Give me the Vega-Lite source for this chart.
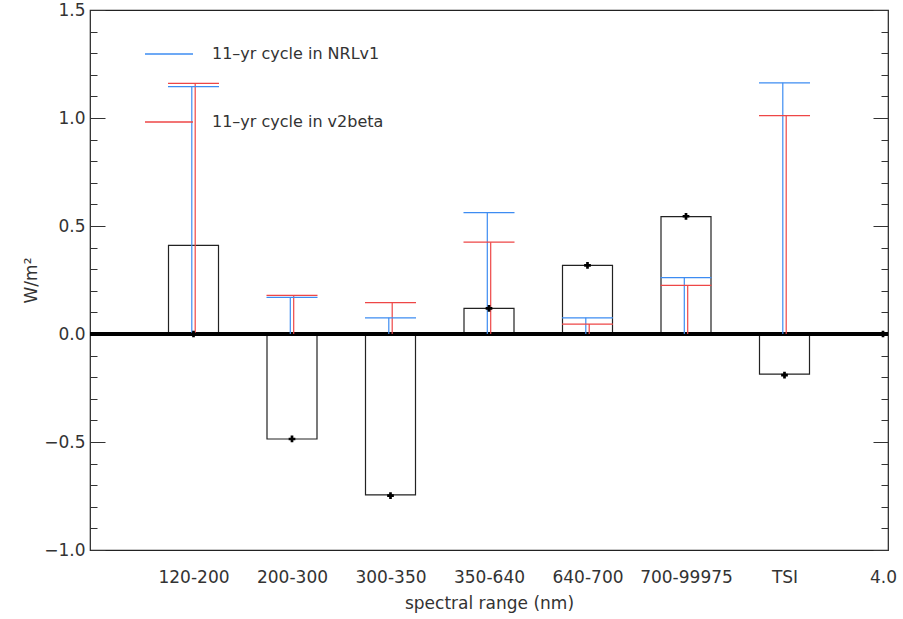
{
  "$schema": "https://vega.github.io/schema/vega-lite/v6.json",
  "width": 798,
  "height": 540,
  "autosize": {"type": "none"},
  "padding": {"left": 90, "top": 10, "right": 15, "bottom": 69},
  "background": "white",
  "config": {
    "view": {"stroke": "#222", "strokeWidth": 1.2},
    "font": "DejaVu Sans",
    "axis": {
      "domain": false,
      "grid": false,
      "labelFont": "DejaVu Sans",
      "labelFontSize": 17,
      "labelColor": "#333",
      "titleFont": "DejaVu Sans",
      "titleFontSize": 17,
      "titleFontWeight": "normal",
      "titleColor": "#333",
      "tickColor": "#333",
      "tickWidth": 1
    }
  },
  "datasets": {
    "bands": [
      {"x": 1, "range": "120-200", "flux": 0.41, "marker": 0.0},
      {"x": 2, "range": "200-300", "flux": -0.486, "marker": -0.486},
      {"x": 3, "range": "300-350", "flux": -0.745, "marker": -0.748},
      {"x": 4, "range": "350-640", "flux": 0.119, "marker": 0.119},
      {"x": 5, "range": "640-700", "flux": 0.318, "marker": 0.318},
      {"x": 6, "range": "700-99975", "flux": 0.543, "marker": 0.545},
      {"x": 7, "range": "TSI", "flux": -0.186, "marker": -0.19},
      {"x": 8, "range": "4.0", "flux": null, "marker": 0.0}
    ],
    "cycle": [
      {"x": 1, "series": "11–yr cycle in NRLv1", "value": 1.145},
      {"x": 2, "series": "11–yr cycle in NRLv1", "value": 0.170},
      {"x": 3, "series": "11–yr cycle in NRLv1", "value": 0.075},
      {"x": 4, "series": "11–yr cycle in NRLv1", "value": 0.562},
      {"x": 5, "series": "11–yr cycle in NRLv1", "value": 0.075},
      {"x": 6, "series": "11–yr cycle in NRLv1", "value": 0.261},
      {"x": 7, "series": "11–yr cycle in NRLv1", "value": 1.163},
      {"x": 1, "series": "11–yr cycle in v2beta", "value": 1.16},
      {"x": 2, "series": "11–yr cycle in v2beta", "value": 0.179},
      {"x": 3, "series": "11–yr cycle in v2beta", "value": 0.145},
      {"x": 4, "series": "11–yr cycle in v2beta", "value": 0.425},
      {"x": 5, "series": "11–yr cycle in v2beta", "value": 0.046},
      {"x": 6, "series": "11–yr cycle in v2beta", "value": 0.225},
      {"x": 7, "series": "11–yr cycle in v2beta", "value": 1.011}
    ]
  },
  "resolve": {"axis": {"y": "independent"}},
  "layer": [
    {
      "data": {"name": "bands"},
      "mark": {"type": "bar", "orient": "vertical", "size": 50, "filled": false, "stroke": "#222", "strokeWidth": 1.2},
      "encoding": {
        "x": {
          "field": "x", "type": "quantitative",
          "scale": {"domain": [0, 8], "nice": false, "zero": false},
          "axis": {
            "orient": "bottom",
            "values": [1, 2, 3, 4, 5, 6, 7, 8],
            "labelExpr": "['', '120-200', '200-300', '300-350', '350-640', '640-700', '700-99975', 'TSI', '4.0'][datum.value]",
            "ticks": false,
            "labelPadding": 19,
            "labelFlush": false,
            "labelOverlap": false,
            "title": "spectral range (nm)",
            "titlePadding": 10
          }
        },
        "y": {
          "field": "flux", "type": "quantitative",
          "scale": {"domain": [-1, 1.5], "nice": false},
          "axis": {
            "orient": "left",
            "values": [-1, -0.9, -0.8, -0.7, -0.6, -0.5, -0.4, -0.3, -0.2, -0.1, 0, 0.1, 0.2, 0.3, 0.4, 0.5, 0.6, 0.7, 0.8, 0.9, 1, 1.1, 1.2, 1.3, 1.4, 1.5],
            "tickSize": {"condition": {"test": "abs(datum.value * 2 - round(datum.value * 2)) < 0.01", "value": -15}, "value": -7},
            "labelExpr": "abs(datum.value * 2 - round(datum.value * 2)) < 0.01 ? format(datum.value, '.1f') : ''",
            "labelPadding": 20,
            "labelOverlap": false,
            "title": "W/m²",
            "titlePadding": 3
          }
        }
      }
    },
    {
      "data": {"name": "bands"},
      "mark": {"type": "rule", "color": "#000", "strokeWidth": 3},
      "encoding": {"y": {"datum": 0, "type": "quantitative", "axis": null}}
    },
    {
      "data": {"name": "cycle"},
      "transform": [{"filter": "datum.series === '11–yr cycle in NRLv1'"}],
      "mark": {"type": "rule", "strokeWidth": 1.2, "xOffset": -1.7},
      "encoding": {
        "x": {"field": "x", "type": "quantitative"},
        "y": {"field": "value", "type": "quantitative", "axis": null},
        "y2": {"datum": 0},
        "color": {"field": "series", "type": "nominal"}
      }
    },
    {
      "data": {"name": "cycle"},
      "transform": [{"filter": "datum.series === '11–yr cycle in v2beta'"}],
      "mark": {"type": "rule", "strokeWidth": 1.2, "xOffset": 1.7},
      "encoding": {
        "x": {"field": "x", "type": "quantitative"},
        "y": {"field": "value", "type": "quantitative", "axis": null},
        "y2": {"datum": 0},
        "color": {"field": "series", "type": "nominal"}
      }
    },
    {
      "data": {"name": "cycle"},
      "mark": {"type": "tick", "orient": "horizontal", "size": 51, "thickness": 1.3, "opacity": 1},
      "encoding": {
        "x": {"field": "x", "type": "quantitative"},
        "y": {"field": "value", "type": "quantitative", "axis": null},
        "color": {
          "field": "series", "type": "nominal",
          "scale": {"domain": ["11–yr cycle in NRLv1", "11–yr cycle in v2beta"], "range": ["#3d8cf2", "#ee4646"]},
          "legend": {
            "title": null,
            "orient": "none",
            "legendX": 54,
            "legendY": 19,
            "symbolType": "stroke",
            "symbolSize": 2304,
            "symbolStrokeWidth": 1.3,
            "labelFont": "DejaVu Sans",
            "labelFontSize": 16,
            "labelColor": "#333",
            "labelOffset": 18,
            "labelLimit": 0,
            "rowPadding": 35,
            "padding": 0
          }
        }
      }
    },
    {
      "data": {"name": "bands"},
      "mark": {"type": "point", "shape": "cross", "size": 45, "filled": true, "color": "#000", "opacity": 1},
      "encoding": {
        "x": {"field": "x", "type": "quantitative"},
        "y": {
          "field": "marker", "type": "quantitative",
          "axis": {
            "orient": "right",
            "values": [-1, -0.9, -0.8, -0.7, -0.6, -0.5, -0.4, -0.3, -0.2, -0.1, 0, 0.1, 0.2, 0.3, 0.4, 0.5, 0.6, 0.7, 0.8, 0.9, 1, 1.1, 1.2, 1.3, 1.4, 1.5],
            "tickSize": {"condition": {"test": "abs(datum.value * 2 - round(datum.value * 2)) < 0.01", "value": -15}, "value": -7},
            "labels": false,
            "title": null
          }
        }
      }
    }
  ]
}
